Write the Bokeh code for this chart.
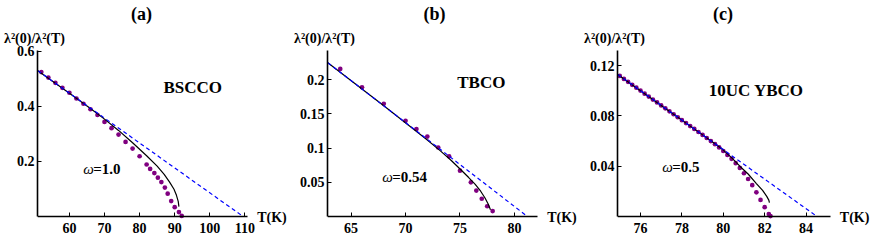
from bokeh.plotting import figure
from bokeh.layouts import row
from bokeh.models import Label, FixedTicker, Range1d, Title
from bokeh.embed import file_html
from bokeh.resources import INLINE

# ---------------- data ----------------
# Panel (a) BSCCO
a_dots_T = [52, 54, 56, 58, 60, 62, 64, 66, 68, 70, 72, 74, 76, 78, 80, 82, 83, 84.2, 85.2, 86.2, 87.2, 88.0, 89.0, 90.0, 91.2, 92.0]
a_dots_v = [0.525, 0.505, 0.486, 0.468, 0.450, 0.429, 0.410, 0.390, 0.369, 0.344, 0.321, 0.298, 0.271, 0.247, 0.219, 0.189, 0.173, 0.158, 0.141, 0.125, 0.105, 0.083, 0.056, 0.034, 0.016, 0.002]
a_fit_T = [51, 60, 66, 70, 74, 78, 82, 85, 87, 88.5, 89.8, 90.5, 91.0, 91.2]
a_fit_v = [0.530, 0.448, 0.393, 0.354, 0.313, 0.268, 0.221, 0.183, 0.153, 0.126, 0.099, 0.077, 0.055, 0.036]
a_lin_T = [51, 109.5]
a_lin_v = [0.530, 0.0]
a_xticks = [60, 70, 80, 90, 100, 110]
a_yticks = [0.2, 0.4, 0.6]
a_ylabels = ["0.2", "0.4", "0.6"]

# Panel (b) TBCO
b_dots_T = [64, 66, 68, 70, 71, 72, 73, 74, 75, 76, 76.5, 77, 77.5, 78]
b_dots_v = [0.216, 0.189, 0.165, 0.140, 0.128, 0.117, 0.101, 0.088, 0.067, 0.050, 0.038, 0.026, 0.015, 0.008]
b_fit_T = [62.86, 68, 72, 73.2, 74.2, 75.1, 75.8, 76.4, 76.9, 77.3, 77.6, 77.8]
b_fit_v = [0.225, 0.162, 0.112, 0.096, 0.082, 0.068, 0.057, 0.047, 0.037, 0.027, 0.018, 0.010]
b_lin_T = [62.86, 81.2]
b_lin_v = [0.225, 0.0]
b_xticks = [65, 70, 75, 80]
b_yticks = [0.05, 0.1, 0.15, 0.2]
b_ylabels = ["0.05", "0.1", "0.15", "0.2"]

# Panel (c) 10UC YBCO
c_dots_T = [75.0, 75.2, 75.4, 75.6, 75.8, 76.0, 76.2, 76.4, 76.6, 76.8, 77.0, 77.2, 77.4, 77.6, 77.8,
            78.0, 78.2, 78.4, 78.6, 78.8, 79.0, 79.2, 79.4, 79.6, 79.8, 80.0, 80.2, 80.4, 80.6, 80.8,
            81.0, 81.2, 81.4, 81.6, 81.8, 82.0, 82.2, 82.28]
c_dots_v = [0.1118, 0.1094, 0.1071, 0.1047, 0.1024, 0.1001, 0.0977, 0.0954, 0.0930, 0.0907, 0.0883,
            0.0860, 0.0836, 0.0813, 0.0789, 0.0766, 0.0743, 0.0719, 0.0696, 0.0672, 0.0649, 0.0624,
            0.0600, 0.0575, 0.0549, 0.0521, 0.0490, 0.0459, 0.0424, 0.0386, 0.0344, 0.0298, 0.0249,
            0.0192, 0.0132, 0.0074, 0.0020, 0.0003]
c_fit_T = [74.9, 77.0, 79.0, 79.6, 80.0, 80.4, 80.8, 81.2, 81.6, 81.9, 82.1, 82.2, 82.23]
c_fit_v = [0.1130, 0.0883, 0.0649, 0.0578, 0.0528, 0.0468, 0.0400, 0.0338, 0.0262, 0.0207, 0.0160, 0.0130, 0.0110]
c_lin_T = [74.9, 84.53]
c_lin_v = [0.1130, 0.0]
c_xticks = [76, 78, 80, 82, 84]
c_yticks = [0.04, 0.08, 0.12]
c_ylabels = ["0.04", "0.08", "0.12"]

titles = ["(a)", "(b)", "(c)"]
materials = ["BSCCO", "TBCO", "10UC YBCO"]
omegas = ["=1.0", "=0.54", "=0.5"]
ylab = "λ²(0)/λ²(T)"
xlab = "T(K)"

FONT = "'Liberation Serif'"
H = 240
FTOP, Y0PX = 50, 216      # page y of frame top and of the value 0 (x axis)


def panel(ox, cw, bl, x0, xend, xend_px, ytop, dT, dv, fT, fv, lT, lv, xt, yt, ylabs,
          title, mat, om, pos):
    fl = ox + bl                     # frame left (page px)
    fr = ox + cw                     # frame right (page px)
    ppk = (xend_px - fl) / (xend - x0)   # pixels per kelvin
    x1 = x0 + (fr - fl) / ppk
    ppu = (Y0PX - FTOP) / ytop           # pixels per unit of y
    ybot = -(H - Y0PX) / ppu
    p = figure(width=cw, height=H, x_range=Range1d(x0, x1), y_range=Range1d(ybot, ytop),
               output_backend="svg", toolbar_location=None, title=None,
               min_border_left=bl, min_border_right=0,
               min_border_top=FTOP, min_border_bottom=0)
    p.grid.visible = False
    p.outline_line_color = None
    for ax in (p.xaxis[0], p.yaxis[0]):
        ax.axis_line_width = 1.6
        ax.axis_line_color = "black"
        ax.major_tick_in = 4
        ax.major_tick_out = 0
        ax.major_tick_line_width = 1
        ax.minor_tick_line_color = None
        ax.major_label_text_font = FONT
        ax.major_label_text_font_style = "bold"
        ax.major_label_text_font_size = "14px"
        ax.major_label_text_color = "black"
    p.xaxis[0].ticker = FixedTicker(ticks=xt)
    p.xaxis[0].bounds = (x0, xend)
    p.xaxis[0].fixed_location = 0
    p.yaxis[0].ticker = FixedTicker(ticks=yt)
    p.yaxis[0].bounds = (0, ytop)
    p.yaxis[0].major_label_overrides = {v: s for v, s in zip(yt, ylabs)}
    p.xaxis[0].major_label_standoff = 6
    p.yaxis[0].major_label_standoff = 3

    p.scatter(dT, dv, size=4.7, color="#800080", line_color=None)
    p.line(fT, fv, line_color="black", line_width=1.2)
    p.line(lT, lv, line_color="#0000ff", line_width=1.2, line_dash="4 3")

    def d(px, py):
        return x0 + (px - fl) / ppk, (Y0PX - py) / ppu

    def lab(txt, px, py, size, style="bold"):
        x, y = d(px, py)
        p.add_layout(Label(x=x, y=y, text=txt, text_font=FONT, text_font_size=size,
                           text_font_style=style, text_align="left", text_baseline="middle",
                           text_color="black"))

    lab(mat, pos["mat"][0], pos["mat"][1], "17px")
    lab("ω", pos["om"][0], pos["om"][1], "15px", style="italic")
    lab(om, pos["om"][0] + 10, pos["om"][1], "15px")
    lab(xlab, pos["xl"][0], pos["xl"][1], "14px")

    # texts above the frame: y-axis caption (nearest the frame), then panel title
    p.add_layout(Title(text=ylab, align="left", offset=pos["ylab"] - fl, standoff=9,
                       text_font=FONT, text_font_size="14px", text_font_style="bold",
                       text_color="black"), "above")
    p.add_layout(Title(text=title, align="left", offset=pos["title"] - fl, standoff=2,
                       text_font=FONT, text_font_size="18px", text_font_style="bold",
                       text_color="black"), "above")
    return p


# panel canvases in page pixels: (a) 0..293, (b) 293..583, (c) 583..872
pa = panel(0, 293, 37, 50.91, 110.74, 247, 0.6036, a_dots_T, a_dots_v, a_fit_T, a_fit_v,
           a_lin_T, a_lin_v, a_xticks, a_yticks, a_ylabels, titles[0], materials[0], omegas[0],
           {"title": 130.5, "ylab": 3.5, "mat": (163, 87), "om": (82.7, 168.3), "xl": (256.7, 217)})
pb = panel(293, 290, 34, 62.83, 82.12, 537, 0.2429, b_dots_T, b_dots_v, b_fit_T, b_fit_v,
           b_lin_T, b_lin_v, b_xticks, b_yticks, b_ylabels, titles[1], materials[1], omegas[1],
           {"title": 423.0, "ylab": 293.5, "mat": (456.7, 82), "om": (381.7, 176.7), "xl": (546.7, 217)})
pc = panel(583, 289, 34, 74.89, 85.18, 830, 0.132, c_dots_T, c_dots_v, c_fit_T, c_fit_v,
           c_lin_T, c_lin_v, c_xticks, c_yticks, c_ylabels, titles[2], materials[2], omegas[2],
           {"title": 712.5, "ylab": 583.5, "mat": (708.3, 90), "om": (661.7, 166.7), "xl": (839.3, 217)})

layout = row(pa, pb, pc)
open("out.html", "w").write(file_html(layout, INLINE))
